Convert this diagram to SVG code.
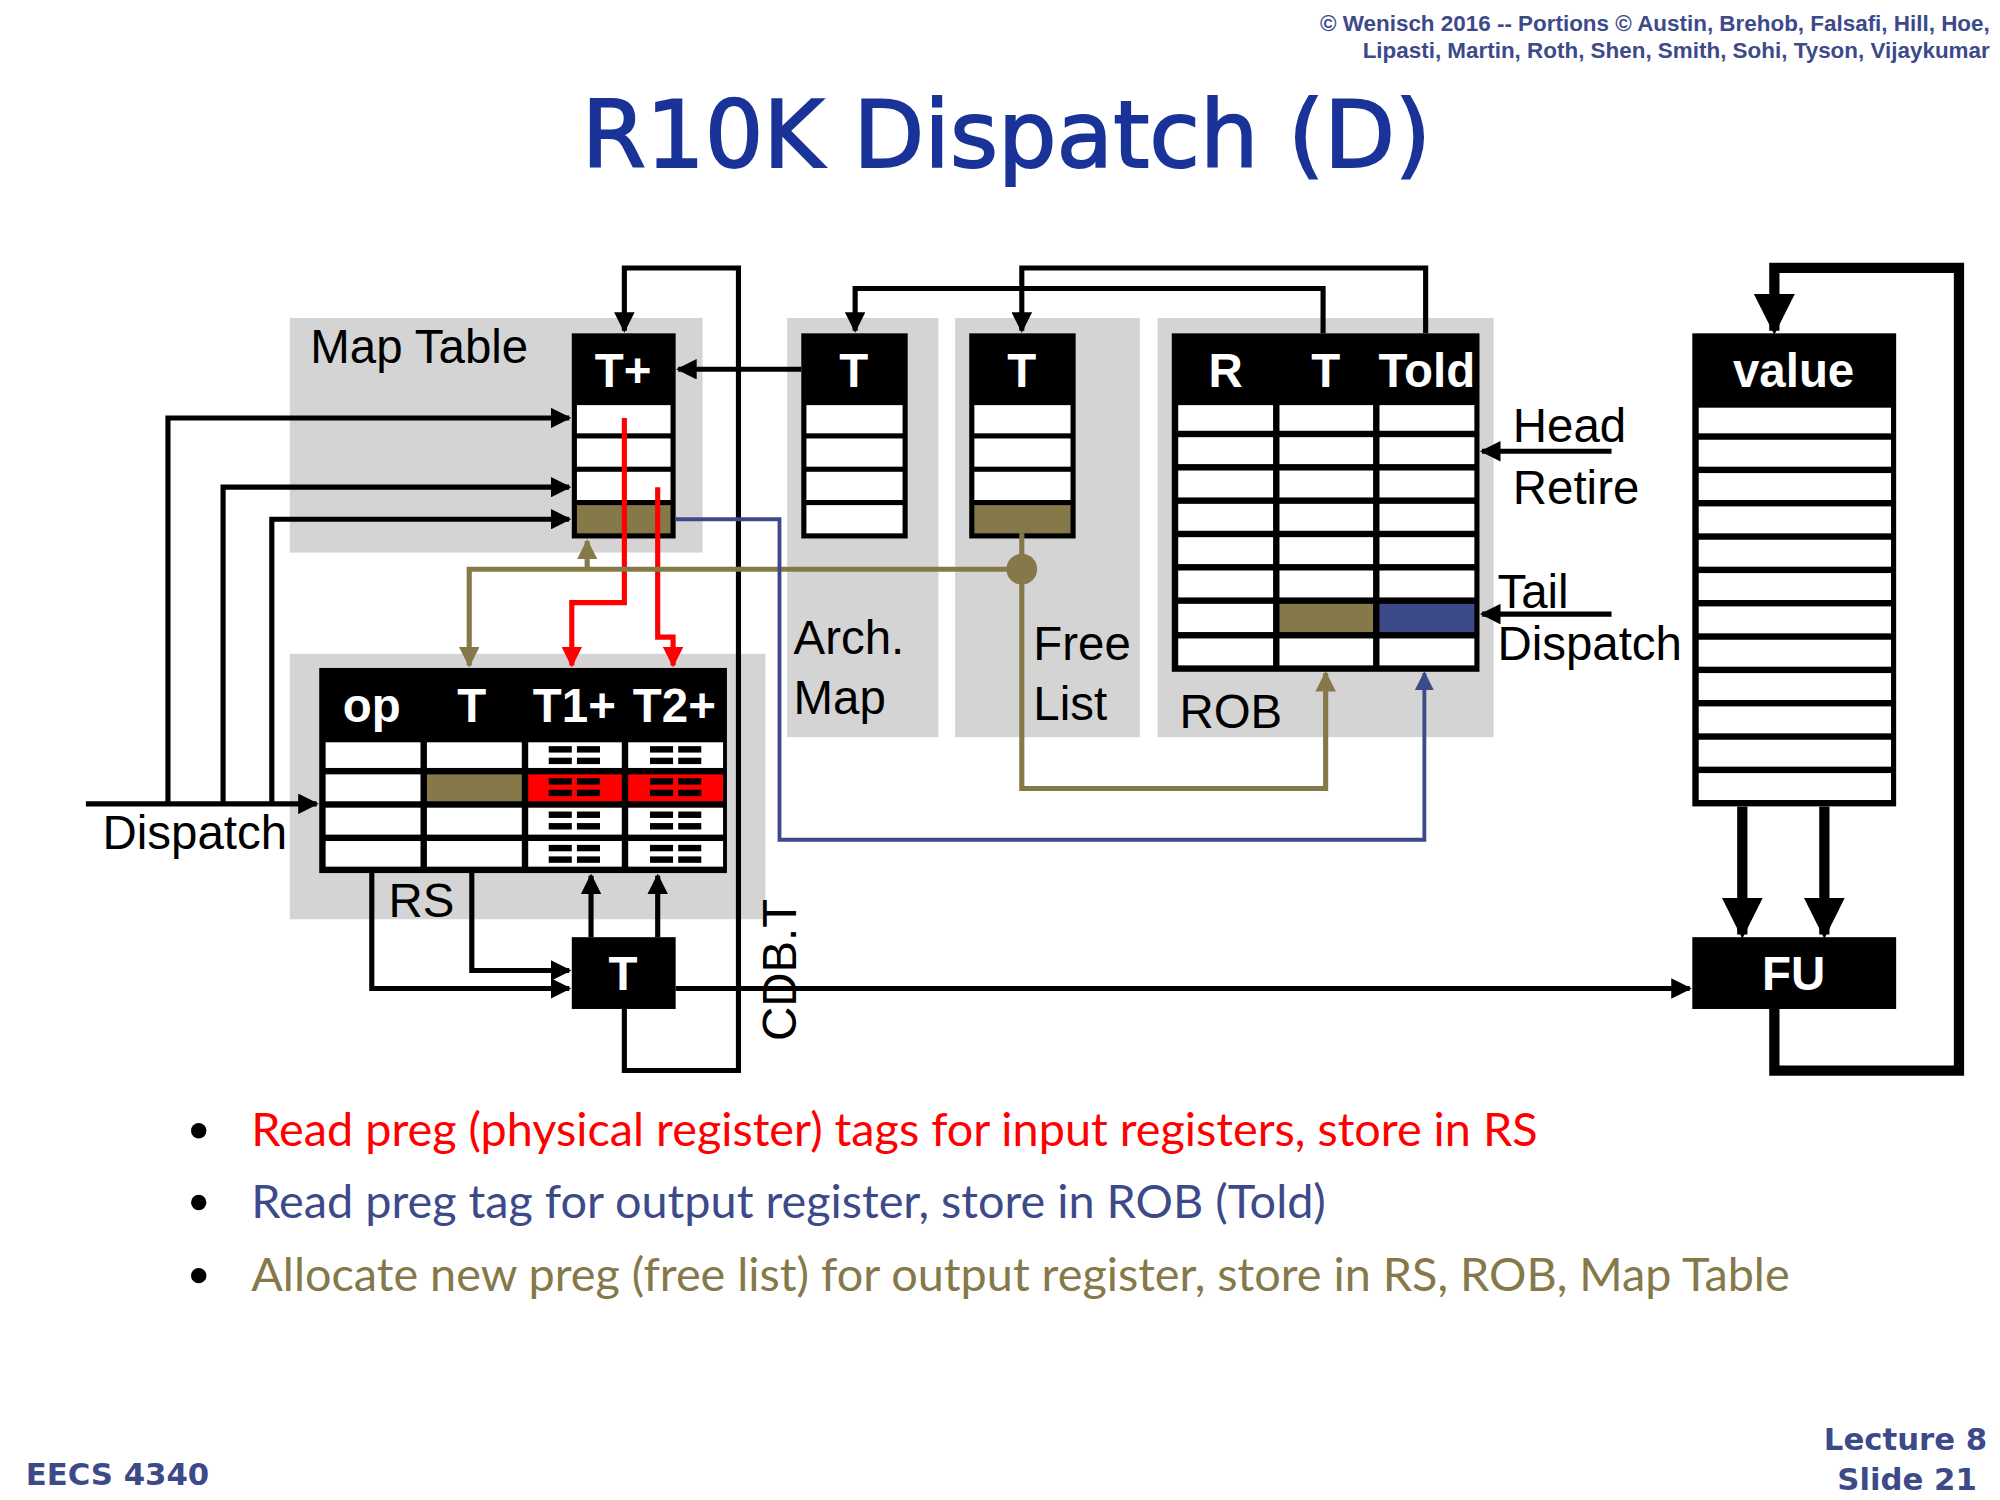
<svg xmlns="http://www.w3.org/2000/svg" width="2000" height="1500" viewBox="0 0 2000 1500">
<defs>
<style>
.bg{fill:#d4d4d4}
.blk{fill:#000}
.wc{fill:#fff}
.ol{fill:#85794a}
.lb{font-family:"Liberation Sans",Arial,sans-serif;font-size:37px;fill:#000}
.hd{font-family:"Liberation Sans",Arial,sans-serif;font-size:37px;font-weight:bold;fill:#fff;text-anchor:middle}
.k{stroke:#000;stroke-width:4;fill:none}
.kt{stroke:#000;stroke-width:8;fill:none}
.r{stroke:#ff0000;stroke-width:4;fill:none}
.o{stroke:#85794a;stroke-width:4;fill:none}
.b{stroke:#3d4a8a;stroke-width:3;fill:none}
.bl{font-family:Lato,"Open Sans",sans-serif;font-size:36.5px}
</style>
<marker id="ak" viewBox="0 0 10 10" refX="9" refY="5" markerWidth="4" markerHeight="4" orient="auto" markerUnits="strokeWidth"><path d="M0,0L10,5L0,10z" fill="#000"/></marker>
<marker id="akt" viewBox="0 0 10 10" refX="9" refY="5" markerWidth="4" markerHeight="4" orient="auto" markerUnits="strokeWidth"><path d="M0,0L10,5L0,10z" fill="#000"/></marker>
<marker id="ar" viewBox="0 0 10 10" refX="9" refY="5" markerWidth="4" markerHeight="4" orient="auto" markerUnits="strokeWidth"><path d="M0,0L10,5L0,10z" fill="#ff0000"/></marker>
<marker id="ao" viewBox="0 0 10 10" refX="9" refY="5" markerWidth="4" markerHeight="4" orient="auto" markerUnits="strokeWidth"><path d="M0,0L10,5L0,10z" fill="#85794a"/></marker>
<marker id="ab" viewBox="0 0 10 10" refX="9" refY="5" markerWidth="5" markerHeight="5" orient="auto" markerUnits="strokeWidth"><path d="M0,0L10,5L0,10z" fill="#3d4a8a"/></marker>
<g id="eq"><rect x="-20" y="-7" width="18" height="5" fill="#000"/><rect x="2" y="-7" width="18" height="5" fill="#000"/><rect x="-20" y="2" width="18" height="5" fill="#000"/><rect x="2" y="2" width="18" height="5" fill="#000"/></g>
</defs>
<rect width="2000" height="1500" fill="#fff"/>
<g transform="scale(1.28205)">
<g id="header">
<text x="1552" y="24" font-family="Liberation Sans,Arial,sans-serif" font-size="17.5" font-weight="bold" fill="#3d4a8a" text-anchor="end">© Wenisch 2016 -- Portions © Austin, Brehob, Falsafi, Hill, Hoe,</text>
<text x="1552" y="45" font-family="Liberation Sans,Arial,sans-serif" font-size="17.5" font-weight="bold" fill="#3d4a8a" text-anchor="end">Lipasti, Martin, Roth, Shen, Smith, Sohi, Tyson, Vijaykumar</text>
<text x="785" y="130" font-family="DejaVu Sans,Verdana,sans-serif" font-size="72" fill="#1a3399" stroke="#1a3399" stroke-width="1.5" text-anchor="middle">R10K Dispatch (D)</text>
</g>

<g id="maptable">
<rect class="bg" x="226" y="248" width="322" height="183"/>
<text class="lb" x="242" y="283">Map Table</text>
<rect class="blk" x="446" y="260" width="81" height="160"/>
<text class="hd" x="486" y="302">T+</text>
<rect class="wc" x="450" y="316" width="73" height="22"/>
<rect class="wc" x="450" y="342" width="73" height="22"/>
<rect class="wc" x="450" y="368" width="73" height="22"/>
<rect class="ol" x="450" y="394" width="73" height="22"/>
</g>

<g id="archmap">
<rect class="bg" x="614" y="248" width="118" height="327"/>
<rect class="blk" x="625" y="260" width="83" height="160"/>
<text class="hd" x="666" y="302">T</text>
<rect class="wc" x="629" y="316" width="75" height="22"/>
<rect class="wc" x="629" y="342" width="75" height="22"/>
<rect class="wc" x="629" y="368" width="75" height="22"/>
<rect class="wc" x="629" y="394" width="75" height="22"/>
<text class="lb" x="619" y="510">Arch.</text>
<text class="lb" x="619" y="557">Map</text>
</g>

<g id="freelist">
<rect class="bg" x="745" y="248" width="144" height="327"/>
<rect class="blk" x="756" y="260" width="83" height="160"/>
<text class="hd" x="797" y="302">T</text>
<rect class="wc" x="760" y="316" width="75" height="22"/>
<rect class="wc" x="760" y="342" width="75" height="22"/>
<rect class="wc" x="760" y="368" width="75" height="22"/>
<rect class="ol" x="760" y="394" width="75" height="22"/>
<text class="lb" x="806" y="515">Free</text>
<text class="lb" x="806" y="562">List</text>
</g>

<g id="rob">
<rect class="bg" x="903" y="248" width="262" height="327"/>
<rect class="blk" x="914" y="260" width="240" height="264"/>
<text class="hd" x="956" y="302">R</text>
<text class="hd" x="1034" y="302">T</text>
<text class="hd" x="1113" y="302">Told</text>
<g class="wc">
<rect x="919" y="316" width="74" height="20"/><rect x="998" y="316" width="73" height="20"/><rect x="1076" y="316" width="74" height="20"/>
<rect x="919" y="341" width="74" height="21"/><rect x="998" y="341" width="73" height="21"/><rect x="1076" y="341" width="74" height="21"/>
<rect x="919" y="367" width="74" height="21"/><rect x="998" y="367" width="73" height="21"/><rect x="1076" y="367" width="74" height="21"/>
<rect x="919" y="393" width="74" height="21"/><rect x="998" y="393" width="73" height="21"/><rect x="1076" y="393" width="74" height="21"/>
<rect x="919" y="419" width="74" height="21"/><rect x="998" y="419" width="73" height="21"/><rect x="1076" y="419" width="74" height="21"/>
<rect x="919" y="445" width="74" height="21"/><rect x="998" y="445" width="73" height="21"/><rect x="1076" y="445" width="74" height="21"/>
<rect x="919" y="471" width="74" height="22"/>
<rect x="919" y="498" width="74" height="21"/><rect x="998" y="498" width="73" height="21"/><rect x="1076" y="498" width="74" height="21"/>
</g>
<rect class="ol" x="998" y="471" width="73" height="22"/>
<rect x="1076" y="471" width="74" height="22" fill="#3d4a8a"/>
<text class="lb" x="920" y="568">ROB</text>
<text class="lb" x="1180" y="345">Head</text>
<text class="lb" x="1180" y="393">Retire</text>
<text class="lb" x="1168" y="474">Tail</text>
<text class="lb" x="1168" y="515">Dispatch</text>
</g>

<g id="regfile">
<rect class="blk" x="1320" y="260" width="159" height="369"/>
<text class="hd" x="1399" y="302">value</text>
<g class="wc">
<rect x="1325" y="318" width="150" height="20"/><rect x="1325" y="343" width="150" height="21"/><rect x="1325" y="369" width="150" height="21"/>
<rect x="1325" y="395" width="150" height="21"/><rect x="1325" y="421" width="150" height="21"/><rect x="1325" y="447" width="150" height="21"/>
<rect x="1325" y="473" width="150" height="21"/><rect x="1325" y="499" width="150" height="21"/><rect x="1325" y="525" width="150" height="21"/>
<rect x="1325" y="551" width="150" height="21"/><rect x="1325" y="577" width="150" height="21"/><rect x="1325" y="603" width="150" height="21"/>
</g>
</g>

<g id="fu">
<rect class="blk" x="1320" y="731" width="159" height="56"/>
<text class="hd" x="1399" y="772">FU</text>
</g>

<g id="rs">
<rect class="bg" x="226" y="510" width="371" height="207"/>
<rect class="blk" x="249" y="521" width="318" height="160"/>
<text class="hd" x="290" y="563">op</text>
<text class="hd" x="368" y="563">T</text>
<text class="hd" x="448" y="563">T1+</text>
<text class="hd" x="526" y="563">T2+</text>
<g class="wc">
<rect x="254" y="579" width="74" height="20"/><rect x="333" y="579" width="74" height="20"/><rect x="412" y="579" width="73" height="20"/><rect x="490" y="579" width="74" height="20"/>
<rect x="254" y="604" width="74" height="21"/>
<rect x="254" y="630" width="74" height="21"/><rect x="333" y="630" width="74" height="21"/><rect x="412" y="630" width="73" height="21"/><rect x="490" y="630" width="74" height="21"/>
<rect x="254" y="656" width="74" height="20"/><rect x="333" y="656" width="74" height="20"/><rect x="412" y="656" width="73" height="20"/><rect x="490" y="656" width="74" height="20"/>
</g>
<rect class="ol" x="333" y="604" width="74" height="21"/>
<rect x="412" y="604" width="73" height="21" fill="#ff0000"/>
<rect x="490" y="604" width="74" height="21" fill="#ff0000"/>
<use href="#eq" x="448" y="589"/><use href="#eq" x="527" y="589"/>
<use href="#eq" x="448" y="614"/><use href="#eq" x="527" y="614"/>
<use href="#eq" x="448" y="640"/><use href="#eq" x="527" y="640"/>
<use href="#eq" x="448" y="666"/><use href="#eq" x="527" y="666"/>
<text class="lb" x="303" y="715">RS</text>
<text class="lb" x="80" y="662">Dispatch</text>
</g>

<g id="tbox">
<rect class="blk" x="446" y="731" width="81" height="56"/>
<text class="hd" x="486" y="772">T</text>
<text class="lb" transform="translate(621,812) rotate(-90)">CDB.T</text>
</g>

<g id="connectors">
<path class="k" d="M67,627H247" marker-end="url(#ak)"/>
<path class="k" d="M131,627V326H444" marker-end="url(#ak)"/>
<path class="k" d="M174,627V380H444" marker-end="url(#ak)"/>
<path class="k" d="M212,627V405H444" marker-end="url(#ak)"/>
<path class="k" d="M290,681V771H444" marker-end="url(#ak)"/>
<path class="k" d="M368,681V757H444" marker-end="url(#ak)"/>
<path class="k" d="M461,731V683" marker-end="url(#ak)"/>
<path class="k" d="M513,731V683" marker-end="url(#ak)"/>
<path class="k" d="M527,771H1318" marker-end="url(#ak)"/>
<path class="k" d="M487,787V835H576V209H487V258" marker-end="url(#ak)"/>
<path class="k" d="M625,288H529" marker-end="url(#ak)"/>
<path class="k" d="M1032,260V225H667V258" marker-end="url(#ak)"/>
<path class="k" d="M1112,260V209H797V258" marker-end="url(#ak)"/>
<path class="k" d="M1257,352H1156" marker-end="url(#ak)"/>
<path class="k" d="M1257,479H1156" marker-end="url(#ak)"/>
<path class="kt" d="M1359,629V729" marker-end="url(#akt)"/>
<path class="kt" d="M1423,629V729" marker-end="url(#akt)"/>
<path class="kt" d="M1384,787V835H1528V209H1384V258" marker-end="url(#akt)"/>
<path class="r" d="M487,326V470H446V519" marker-end="url(#ar)"/>
<path class="r" d="M513,380V497H525V519" marker-end="url(#ar)"/>
<path class="o" d="M797,416V615H1034V525" marker-end="url(#ao)"/>
<path class="o" d="M797,444H366V519" marker-end="url(#ao)"/>
<path class="o" d="M458,444V422" marker-end="url(#ao)"/>
<circle cx="797" cy="444" r="12" fill="#85794a"/>
<path class="b" d="M527,405H608V655H1111V525" marker-end="url(#ab)"/>
</g>

<g id="bullets">
<circle cx="155" cy="882" r="6" fill="#000"/>
<circle cx="155" cy="938" r="6" fill="#000"/>
<circle cx="155" cy="995" r="6" fill="#000"/>
<text class="bl" x="196" y="894" fill="#ff0000">Read preg (physical register) tags for input registers, store in RS</text>
<text class="bl" x="196" y="950" fill="#3d4a8a">Read preg tag for output register, store in ROB (Told)</text>
<text class="bl" x="196" y="1007" fill="#85794a">Allocate new preg (free list) for output register, store in RS, ROB, Map Table</text>
</g>

<g id="footer">
<text x="20" y="1158" font-family="DejaVu Sans,Verdana,sans-serif" font-size="24" font-weight="bold" fill="#3d4a8a">EECS 4340</text>
<text x="1550" y="1131" font-family="DejaVu Sans,Verdana,sans-serif" font-size="24" font-weight="bold" fill="#3d4a8a" text-anchor="end">Lecture 8</text>
<text x="1542" y="1162" font-family="DejaVu Sans,Verdana,sans-serif" font-size="24" font-weight="bold" fill="#3d4a8a" text-anchor="end">Slide 21</text>
</g>
</g>
</svg>
